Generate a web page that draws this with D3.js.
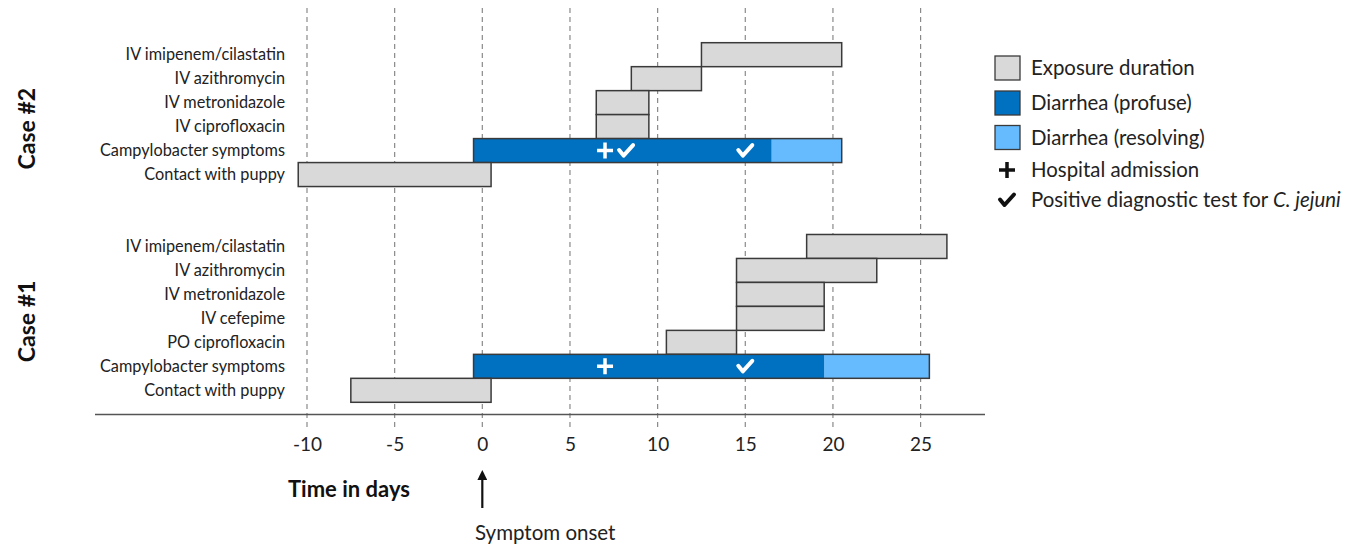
<!DOCTYPE html>
<html>
  <head>
    <meta charset="utf-8">
    <title>timeline</title>
    <style>
    body{margin:0;background:#fff}
    svg{font-family:Lato, "Open Sans", sans-serif}
    </style>
  </head>
  <body>
    <svg width="1363" height="551"></svg>
    <script src="https://d3js.org/d3.v7.min.js"></script>
    <script>

    // case #2 rows (top block)
    var case2Rows = ["IV imipenem/cilastatin", "IV azithromycin", "IV metronidazole", "IV ciprofloxacin", "Campylobacter symptoms", "Contact with puppy"];
    var case2Start = [12.5, 8.5, 6.5, 6.5, -0.5, -10.5];
    var case2End = [20.5, 12.5, 9.5, 9.5, 20.5, 0.5];
    var case2ProfuseEnd = 16.5;
    var case2Admission = [7];
    var case2Tests = [8.2, 15];

    // case #1 rows (bottom block)
    var case1Rows = ["IV imipenem/cilastatin", "IV azithromycin", "IV metronidazole", "IV cefepime", "PO ciprofloxacin", "Campylobacter symptoms", "Contact with puppy"];
    var case1Start = [18.5, 14.5, 14.5, 14.5, 10.5, -0.5, -7.5];
    var case1End = [26.5, 22.5, 19.5, 19.5, 14.5, 25.5, 0.5];
    var case1ProfuseEnd = 19.5;
    var case1Admission = [7];
    var case1Tests = [15];

    var xTicks = [-10, -5, 0, 5, 10, 15, 20, 25];

    var legendLabels = ["Exposure duration", "Diarrhea (profuse)", "Diarrhea (resolving)", "Hospital admission", "Positive diagnostic test for "];

    var grey = "#d9d9d9", profuse = "#0070c0", resolving = "#66bbff", edge = "#3a3a3a";

    var svg = d3.select("svg");

    var x = d3.scaleLinear().domain([-10, 25]).range([307, 920.6]);

    // one band per row, two empty bands between the cases
    var keys = case2Rows.map(function(d, i) { return "c2_" + i; })
      .concat(["gap0", "gap1"])
      .concat(case1Rows.map(function(d, i) { return "c1_" + i; }));
    var y = d3.scaleBand().domain(keys).range([42.7, 402.3]).padding(0);

    // grid lines
    svg.append("g").selectAll("line").data(xTicks).join("line")
      .attr("x1", function(d) { return x(d); }).attr("x2", function(d) { return x(d); })
      .attr("y1", 8).attr("y2", 430)
      .attr("stroke", "#8a8a8a").attr("stroke-width", 1.2).attr("stroke-dasharray", "5,4");

    // base line
    svg.append("line").attr("x1", 95).attr("x2", 985).attr("y1", 414.5).attr("y2", 414.5)
      .attr("stroke", "#555").attr("stroke-width", 1.5);

    function drawCase(prefix, rows, starts, ends, profuseEnd, admissions, tests) {
      var g = svg.append("g");
      var recs = rows.map(function(r, i) { return {name: r, key: prefix + i, s: starts[i], e: ends[i]}; });

      g.selectAll("text.row").data(recs).join("text")
        .attr("class", "row")
        .attr("x", 285).attr("y", function(d) { return y(d.key) + y.bandwidth() / 2; })
        .attr("dy", "0.35em").attr("text-anchor", "end")
        .attr("font-size", 16.3).attr("fill", "#222")
        .text(function(d) { return d.name; });

      recs.forEach(function(d) {
        if (d.name == "Campylobacter symptoms") {
          g.append("rect").attr("x", x(profuseEnd)).attr("y", y(d.key))
            .attr("width", x(d.e) - x(profuseEnd)).attr("height", y.bandwidth())
            .attr("fill", resolving);
          g.append("rect").attr("x", x(d.s)).attr("y", y(d.key))
            .attr("width", x(profuseEnd) - x(d.s)).attr("height", y.bandwidth())
            .attr("fill", profuse);
          g.append("rect").attr("x", x(d.s)).attr("y", y(d.key))
            .attr("width", x(d.e) - x(d.s)).attr("height", y.bandwidth())
            .attr("fill", "none").attr("stroke", edge).attr("stroke-width", 1.5);
          var cy = y(d.key) + y.bandwidth() / 2;
          admissions.forEach(function(a) { plus(g, x(a), cy, "#fff"); });
          tests.forEach(function(t) { check(g, x(t), cy, "#fff"); });
        } else {
          g.append("rect").attr("x", x(d.s)).attr("y", y(d.key))
            .attr("width", x(d.e) - x(d.s)).attr("height", y.bandwidth())
            .attr("fill", grey).attr("stroke", edge).attr("stroke-width", 1.5);
        }
      });
    }

    function plus(g, cx, cy, col) {
      g.append("path")
        .attr("d", "M" + (cx - 8) + "," + cy + "H" + (cx + 8) + "M" + cx + "," + (cy - 8) + "V" + (cy + 8))
        .attr("stroke", col).attr("stroke-width", 3.5).attr("fill", "none");
    }

    function check(g, cx, cy, col) {
      g.append("path")
        .attr("d", "M" + (cx - 7) + "," + (cy - 0.5) + "L" + (cx - 2.5) + "," + (cy + 5) + "L" + (cx + 7) + "," + (cy - 5.5))
        .attr("stroke", col).attr("stroke-width", 4).attr("fill", "none")
        .attr("stroke-linejoin", "round").attr("stroke-linecap", "round");
    }

    drawCase("c2_", case2Rows, case2Start, case2End, case2ProfuseEnd, case2Admission, case2Tests);
    drawCase("c1_", case1Rows, case1Start, case1End, case1ProfuseEnd, case1Admission, case1Tests);

    // case labels
    [["Case #2", y("c2_3") + 14], ["Case #1", y("c1_3") + 15]].forEach(function(c) {
      svg.append("text").attr("transform", "translate(35," + c[1] + ") rotate(-90)")
        .attr("text-anchor", "middle").attr("font-size", 23).attr("font-weight", "bold")
        .attr("fill", "#111").text(c[0]);
    });

    // x axis labels
    var ax = svg.append("g").attr("transform", "translate(0,437)")
      .call(d3.axisBottom(x).tickValues(xTicks).tickSize(0).tickPadding(0).tickFormat(function(d) { return String(d); }));
    ax.select(".domain").remove();
    ax.selectAll("text").attr("font-size", 19).attr("font-family", "Lato").attr("fill", "#222");

    svg.append("text").attr("x", 288).attr("y", 489).attr("dy", "0.35em")
      .attr("font-size", 22).attr("font-weight", "bold").attr("fill", "#111").text("Time in days");

    // symptom onset arrow
    svg.append("defs").append("marker").attr("id", "ah").attr("viewBox", "0 0 10 10")
      .attr("refX", 2).attr("refY", 5).attr("markerWidth", 4.5).attr("markerHeight", 4.5).attr("orient", "auto")
      .append("path").attr("d", "M0,0L10,5L0,10z").attr("fill", "#111");
    svg.append("line").attr("x1", x(0)).attr("x2", x(0)).attr("y1", 508).attr("y2", 478)
      .attr("stroke", "#111").attr("stroke-width", 2.2).attr("marker-end", "url(#ah)");
    svg.append("text").attr("x", 475).attr("y", 533).attr("dy", "0.35em")
      .attr("font-size", 20.5).attr("fill", "#222").text("Symptom onset");

    // legend
    var lg = svg.append("g");
    var ly = [68, 103, 137.5, 170, 200];
    [grey, profuse, resolving].forEach(function(c, i) {
      lg.append("rect").attr("x", 995).attr("y", ly[i] - 12).attr("width", 25).attr("height", 24)
        .attr("fill", c).attr("stroke", edge).attr("stroke-width", 1.3);
    });
    plus(lg, 1007, ly[3], "#111");
    check(lg, 1007, ly[4], "#111");
    legendLabels.forEach(function(t, i) {
      var tx = lg.append("text").attr("x", 1031).attr("y", ly[i]).attr("dy", "0.35em")
        .attr("font-size", 20.4).attr("fill", "#222").text(t);
      if (i == 4) tx.append("tspan").attr("font-style", "italic").text("C. jejuni");
    });

    </script>
  </body>
</html>
